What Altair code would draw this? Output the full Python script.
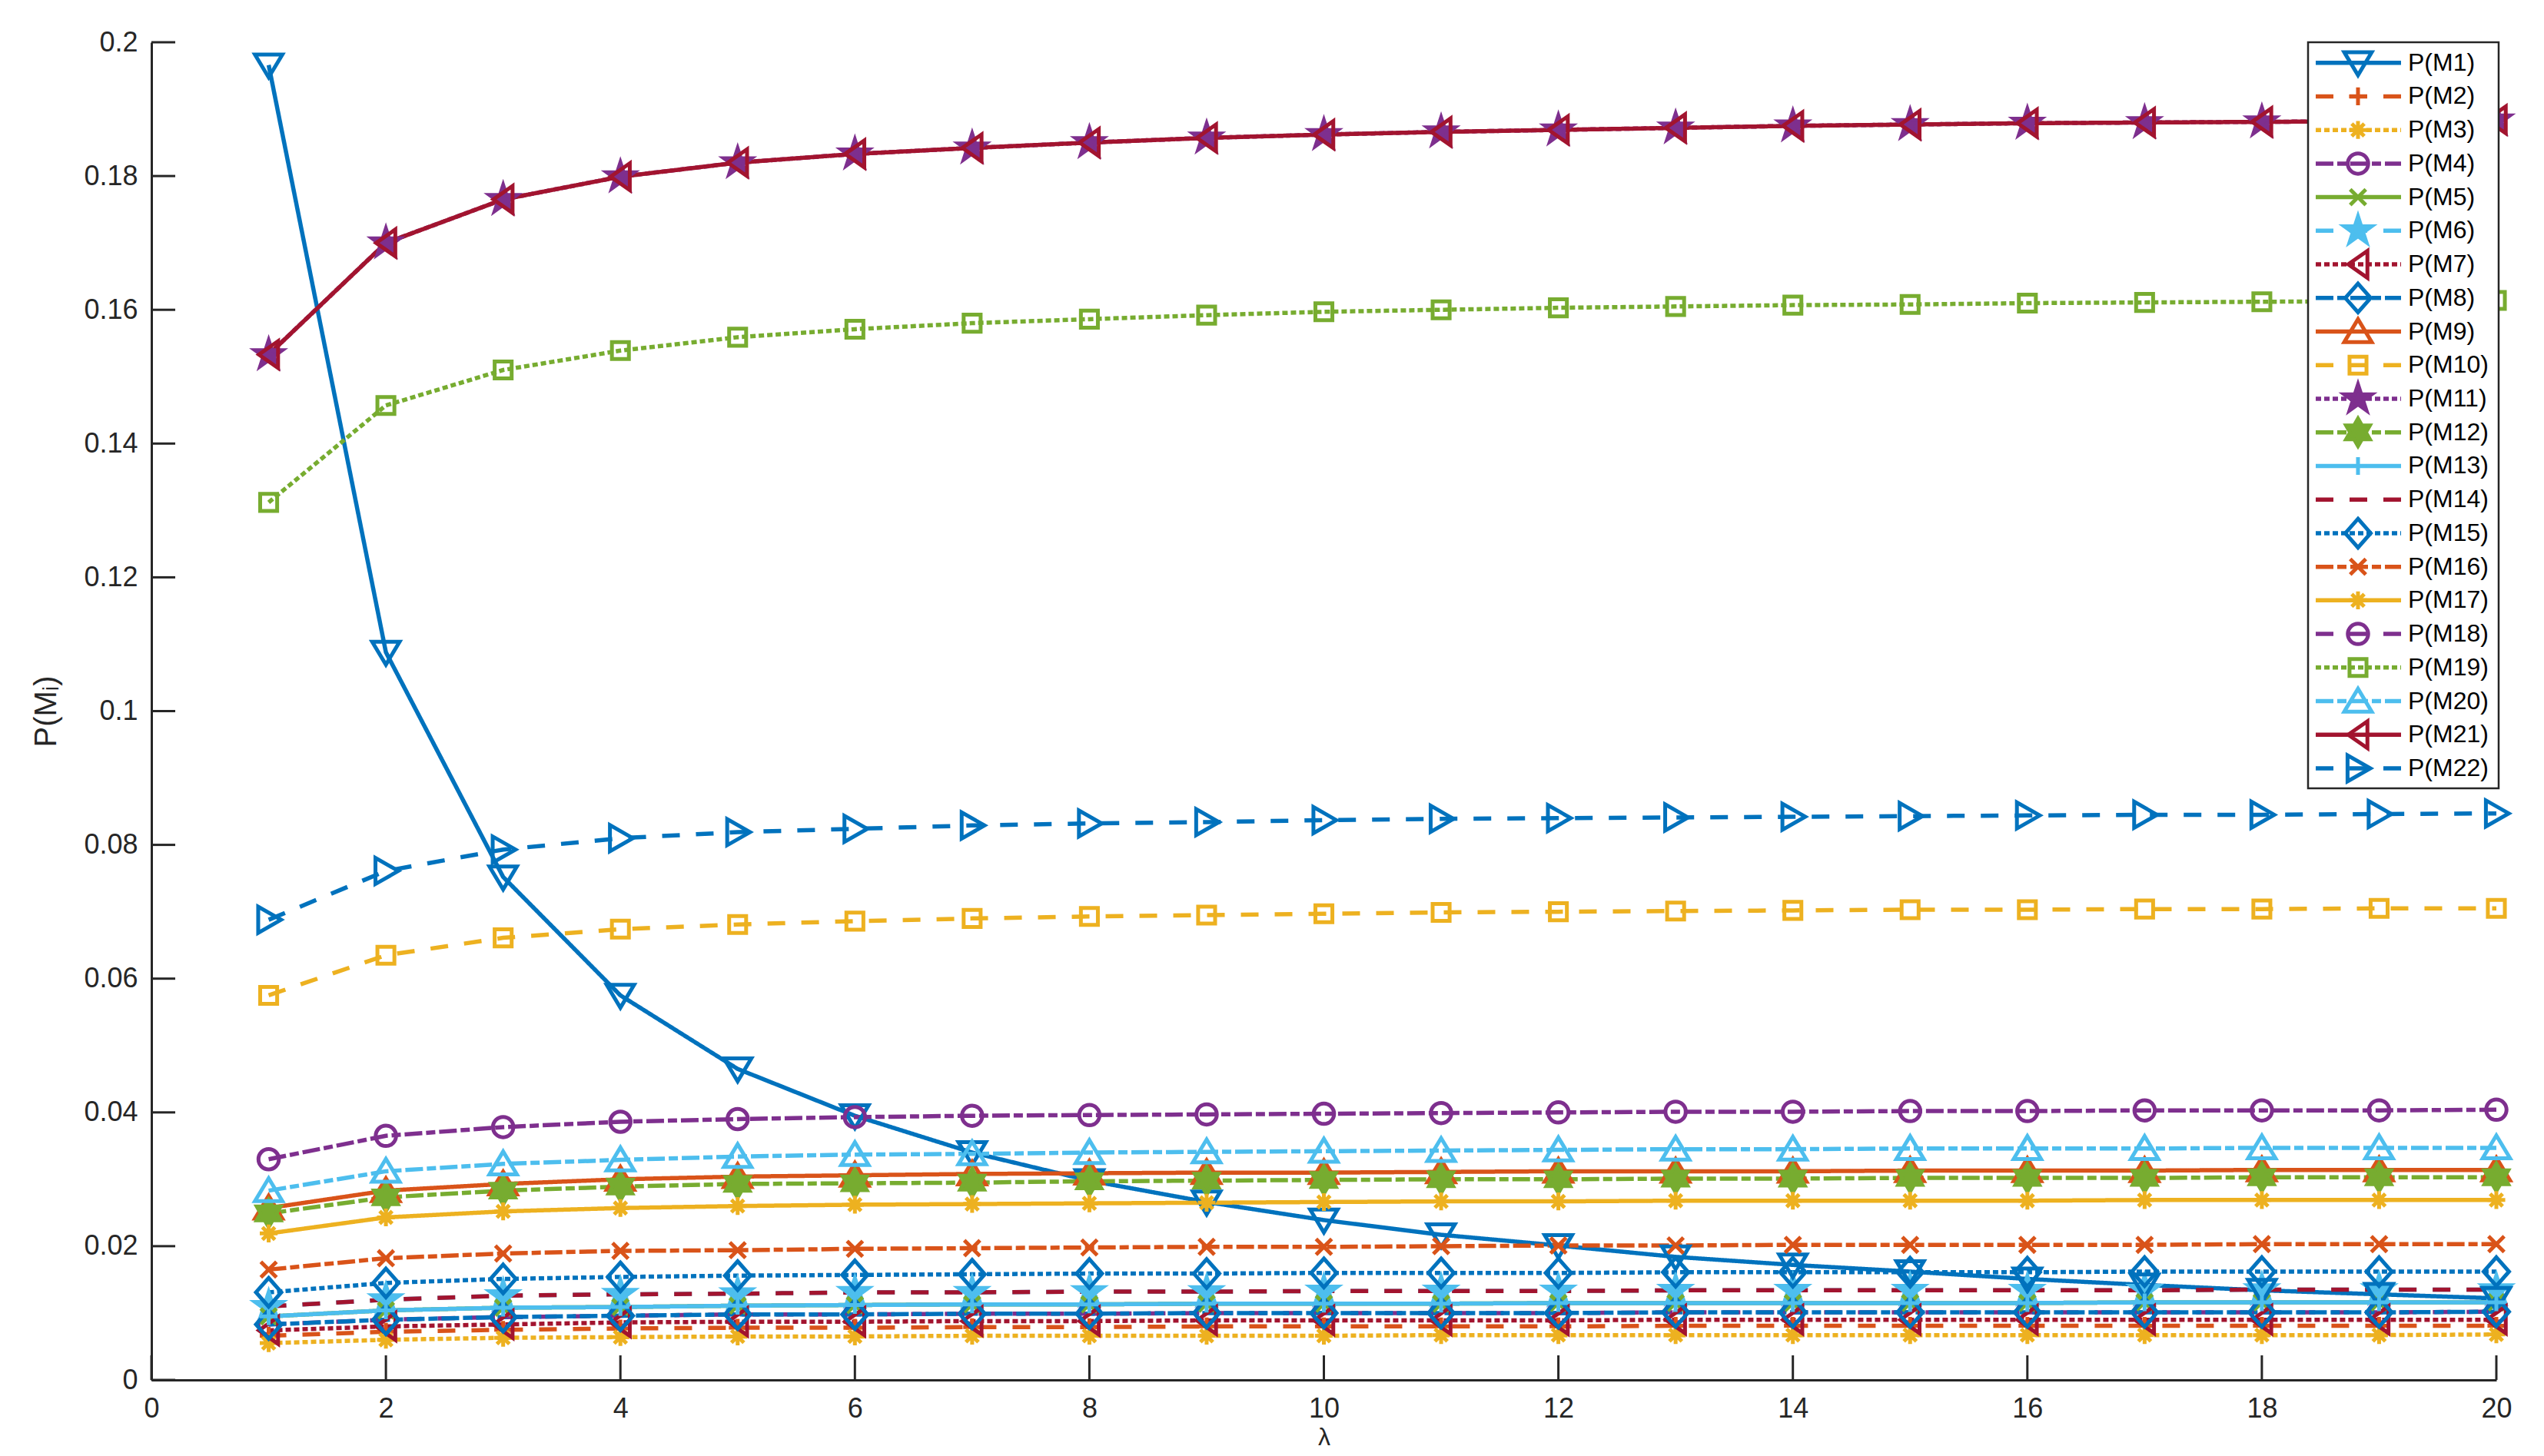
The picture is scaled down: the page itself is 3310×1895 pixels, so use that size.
import math
import altair as alt
import pandas as pd

# ---------------- data ----------------
lam = list(range(1, 21))
labels = [f"P(M{i})" for i in range(1, 23)]

p_m1 = [0.1966, 0.1088, 0.0752, 0.0575, 0.0465, 0.0395, 0.0340, 0.0298, 0.0266, 0.0239,
        0.0217, 0.0201, 0.0184, 0.0172, 0.0162, 0.0151, 0.0142, 0.0134, 0.0128, 0.0122]
p_m2 = [0.0066, 0.0072, 0.0075, 0.0077, 0.0078, 0.0078, 0.0079, 0.0079, 0.0080, 0.0080,
        0.0080, 0.0080, 0.0081, 0.0081, 0.0081, 0.0081, 0.0081, 0.0081, 0.0081, 0.0081]
p_m3 = [0.0055, 0.0060, 0.0063, 0.0064, 0.0065, 0.0065, 0.0066, 0.0066, 0.0066, 0.0066,
        0.0067, 0.0067, 0.0067, 0.0067, 0.0067, 0.0067, 0.0067, 0.0067, 0.0067, 0.0068]
p_m4 = [0.0330, 0.0365, 0.0378, 0.0386, 0.0390, 0.0393, 0.0395, 0.0396, 0.0397, 0.0398,
        0.0399, 0.0400, 0.0401, 0.0401, 0.0402, 0.0402, 0.0403, 0.0403, 0.0403, 0.0404]
p_m5 = [0.0095, 0.0104, 0.0108, 0.0109, 0.0111, 0.0112, 0.0113, 0.0113, 0.0114, 0.0114,
        0.0114, 0.0115, 0.0115, 0.0115, 0.0115, 0.0115, 0.0116, 0.0116, 0.0116, 0.0116]
p_m6 = [0.0110, 0.0120, 0.0126, 0.0128, 0.0129, 0.0131, 0.0131, 0.0132, 0.0132, 0.0133,
        0.0133, 0.0133, 0.0134, 0.0134, 0.0134, 0.0134, 0.0134, 0.0135, 0.0135, 0.0135]
p_m7 = [0.0074, 0.0080, 0.0083, 0.0086, 0.0087, 0.0087, 0.0088, 0.0088, 0.0089, 0.0089,
        0.0089, 0.0089, 0.0090, 0.0090, 0.0090, 0.0090, 0.0090, 0.0090, 0.0090, 0.0090]
p_m8 = [0.0083, 0.0090, 0.0094, 0.0096, 0.0098, 0.0098, 0.0099, 0.0099, 0.0100, 0.0100,
        0.0100, 0.0100, 0.0101, 0.0101, 0.0101, 0.0101, 0.0101, 0.0101, 0.0101, 0.0102]
p_m9 = [0.0257, 0.0283, 0.0293, 0.0300, 0.0304, 0.0306, 0.0308, 0.0309, 0.0310, 0.0310,
        0.0311, 0.0312, 0.0312, 0.0312, 0.0313, 0.0313, 0.0313, 0.0314, 0.0314, 0.0314]
p_m10 = [0.0575, 0.0635, 0.0661, 0.0674, 0.0681, 0.0686, 0.0690, 0.0693, 0.0695, 0.0697,
         0.0699, 0.0700, 0.0701, 0.0702, 0.0703, 0.0703, 0.0704, 0.0704, 0.0705, 0.0705]
p_m11 = [0.1533, 0.1700, 0.1765, 0.1799, 0.1820, 0.1833, 0.1842, 0.1850, 0.1857, 0.1862,
         0.1866, 0.1869, 0.1872, 0.1875, 0.1877, 0.1879, 0.1880, 0.1881, 0.1882, 0.1884]
p_m12 = [0.0249, 0.0273, 0.0283, 0.0289, 0.0293, 0.0294, 0.0295, 0.0297, 0.0298, 0.0299,
         0.0300, 0.0300, 0.0301, 0.0301, 0.0302, 0.0302, 0.0302, 0.0303, 0.0303, 0.0303]
p_m13 = [0.0095, 0.0104, 0.0108, 0.0109, 0.0111, 0.0112, 0.0113, 0.0113, 0.0114, 0.0114,
         0.0114, 0.0115, 0.0115, 0.0115, 0.0115, 0.0115, 0.0116, 0.0116, 0.0116, 0.0116]
p_m14 = [0.0110, 0.0120, 0.0126, 0.0128, 0.0129, 0.0131, 0.0131, 0.0132, 0.0132, 0.0133,
         0.0133, 0.0133, 0.0134, 0.0134, 0.0134, 0.0134, 0.0134, 0.0135, 0.0135, 0.0135]
p_m15 = [0.0131, 0.0145, 0.0151, 0.0154, 0.0156, 0.0157, 0.0158, 0.0159, 0.0159, 0.0160,
         0.0160, 0.0160, 0.0161, 0.0161, 0.0161, 0.0161, 0.0162, 0.0162, 0.0162, 0.0162]
p_m16 = [0.0165, 0.0182, 0.0189, 0.0193, 0.0194, 0.0196, 0.0197, 0.0198, 0.0199, 0.0199,
         0.0200, 0.0201, 0.0201, 0.0202, 0.0202, 0.0202, 0.0202, 0.0203, 0.0203, 0.0203]
p_m17 = [0.0219, 0.0243, 0.0252, 0.0257, 0.0260, 0.0262, 0.0263, 0.0264, 0.0265, 0.0266,
         0.0267, 0.0267, 0.0268, 0.0268, 0.0268, 0.0268, 0.0269, 0.0269, 0.0269, 0.0269]
p_m18 = [0.0083, 0.0090, 0.0094, 0.0096, 0.0098, 0.0098, 0.0099, 0.0099, 0.0100, 0.0100,
         0.0100, 0.0100, 0.0101, 0.0101, 0.0101, 0.0101, 0.0101, 0.0101, 0.0101, 0.0102]
p_m19 = [0.1312, 0.1457, 0.1510, 0.1539, 0.1559, 0.1571, 0.1580, 0.1586, 0.1592, 0.1597,
         0.1600, 0.1603, 0.1605, 0.1607, 0.1608, 0.1610, 0.1611, 0.1612, 0.1613, 0.1614]
p_m20 = [0.0283, 0.0312, 0.0323, 0.0329, 0.0334, 0.0337, 0.0338, 0.0340, 0.0341, 0.0342,
         0.0343, 0.0344, 0.0345, 0.0345, 0.0346, 0.0346, 0.0346, 0.0347, 0.0347, 0.0347]
p_m21 = [0.1533, 0.1700, 0.1765, 0.1799, 0.1820, 0.1833, 0.1842, 0.1850, 0.1857, 0.1862,
         0.1866, 0.1869, 0.1872, 0.1875, 0.1877, 0.1879, 0.1880, 0.1881, 0.1882, 0.1884]
p_m22 = [0.0688, 0.0761, 0.0793, 0.0810, 0.0819, 0.0824, 0.0829, 0.0832, 0.0834, 0.0837,
         0.0839, 0.0840, 0.0841, 0.0842, 0.0843, 0.0844, 0.0845, 0.0845, 0.0846, 0.0847]

x_ticks = [0, 2, 4, 6, 8, 10, 12, 14, 16, 18, 20]
y_ticks = [0, 0.02, 0.04, 0.06, 0.08, 0.1, 0.12, 0.14, 0.16, 0.18, 0.2]

series_values = dict(zip(labels, [p_m1, p_m2, p_m3, p_m4, p_m5, p_m6, p_m7, p_m8, p_m9, p_m10,
                                  p_m11, p_m12, p_m13, p_m14, p_m15, p_m16, p_m17, p_m18,
                                  p_m19, p_m20, p_m21, p_m22]))

# ---------------- styles ----------------
C = ["#0072BD", "#D95319", "#EDB120", "#7E2F8E", "#77AC30", "#4DBEEE", "#A2142F"]
colors = [C[i % 7] for i in range(22)]
SOLID, DASHED, DOTTED, DASHDOT = [1, 0], [23, 21], [7, 4], [23, 5, 12, 5]
dash_cycle = [SOLID, DASHED, DOTTED, DASHDOT]
dashes = [dash_cycle[i % 4] for i in range(22)]


def star_path(n, R, r):
    pts = []
    for k in range(2 * n):
        ang = math.radians(-90 + k * 180.0 / n)
        rad = R if k % 2 == 0 else r
        pts.append(f"{rad * math.cos(ang):.3f},{rad * math.sin(ang):.3f}")
    return "M" + "L".join(pts) + "Z"


TRI_DOWN = "M-1.05,-0.8L1.05,-0.8L0,0.95Z"
TRI_UP = "M-1.05,0.8L1.05,0.8L0,-0.95Z"
TRI_LEFT = "M0.72,-1.03L0.72,1.03L-0.75,0Z"
TRI_RIGHT = "M-0.8,-1L-0.8,1L0.95,0Z"
PLUS = "M-0.68,0L0.68,0M0,-0.68L0,0.68"
XMARK = "M-0.6,-0.6L0.6,0.6M-0.6,0.6L0.6,-0.6"
ASTER = "M-0.68,0L0.68,0M0,-0.68L0,0.68M-0.48,-0.48L0.48,0.48M-0.48,0.48L0.48,-0.48"
CIRCLE = "M0.78,0A0.78,0.78,0,1,1,-0.78,0A0.78,0.78,0,1,1,0.78,0Z"
DIAMOND = "M0,-1.1L0.97,0L0,1.1L-0.97,0Z"
SQUARE = "M-0.65,-0.65L0.65,-0.65L0.65,0.65L-0.65,0.65Z"
PENTA = star_path(5, 1.1, 0.42)
HEXA = star_path(6, 1.05, 0.606)
NONE = "M0,0"

shapes = [TRI_DOWN, PLUS, ASTER, CIRCLE, XMARK, PENTA, TRI_LEFT, DIAMOND, TRI_UP, SQUARE,
          PENTA, HEXA, PLUS, NONE, DIAMOND, XMARK, ASTER, CIRCLE, SQUARE, TRI_UP,
          TRI_LEFT, TRI_RIGHT]
# star markers render as solid at this line width
fills = [colors[i] if shapes[i] in (PENTA, HEXA) else "transparent" for i in range(22)]

# draw order: series that are hidden below others first
hidden = ["P(M18)", "P(M11)", "P(M6)", "P(M5)"]
draw_order = hidden + [s for s in labels if s not in hidden]

rows = []
for name in draw_order:
    for x, v in zip(lam, series_values[name]):
        rows.append({"series": name, "lam": x, "p": v})
df = pd.DataFrame(rows)

W, H = 3051, 1741
AX = "#262626"
FONT = "Liberation Sans"

color_enc = alt.Color("series:N", scale=alt.Scale(domain=labels, range=colors), legend=None)
fill_enc = alt.Fill("series:N", scale=alt.Scale(domain=labels, range=fills), legend=None)
dash_enc = alt.StrokeDash("series:N", scale=alt.Scale(domain=labels, range=dashes), legend=None)
shape_enc = alt.Shape("series:N", scale=alt.Scale(domain=labels, range=shapes), legend=None)

x_scale = alt.Scale(domain=[0, 20], nice=False, zero=False)
y_scale = alt.Scale(domain=[0, 0.2], nice=False)

x_axis = alt.Axis(values=x_ticks, format="d", title="λ", ticks=False, tickSize=0,
                  labelPadding=20, labelFontSize=36, labelFont=FONT, labelColor=AX,
                  labelFlush=False, labelOverlap=False, domainColor=AX, domainWidth=3,
                  grid=False, titleFont=FONT, titleFontSize=32, titleFontWeight="normal",
                  titleColor=AX, titleY=59, titleBaseline="top")
y_axis = alt.Axis(values=y_ticks, format="~g", title="P(Mᵢ)", ticks=False, tickSize=0,
                  labelPadding=18, labelFontSize=36, labelFont=FONT, labelColor=AX,
                  labelFlush=False, labelOverlap=False, domainColor=AX, domainWidth=3,
                  grid=False, titleFont=FONT, titleFontSize=40, titleFontWeight="normal",
                  titleColor=AX, titleAngle=270, titleX=-137, titleY=H / 2,
                  titleAlign="center", titleBaseline="middle")

X = alt.X("lam:Q", scale=x_scale, axis=x_axis)
Y = alt.Y("p:Q", scale=y_scale, axis=y_axis)

lines = alt.Chart(df).mark_line(strokeWidth=5.5, strokeCap="butt", opacity=1).encode(
    x=X, y=Y, color=color_enc, strokeDash=dash_enc, detail="series:N")

points = alt.Chart(df).transform_filter(alt.datum.series != "P(M14)").mark_point(
    filled=False, strokeWidth=5, size=1156, opacity=1).encode(
    x=X, y=Y, color=color_enc, fill=fill_enc, shape=shape_enc)

xtick_df = pd.DataFrame({"lam": x_ticks})
ytick_df = pd.DataFrame({"p": y_ticks})
xticks = alt.Chart(xtick_df).mark_rule(color=AX, strokeWidth=3).encode(
    x=X, y=alt.value(H), y2=alt.value(H - 32))
yticks = alt.Chart(ytick_df).mark_rule(color=AX, strokeWidth=3).encode(
    y=Y, x=alt.value(0), x2=alt.value(31))

main = alt.layer(lines, points, xticks, yticks)

# ---------------- legend (MATLAB style box, top right) ----------------
leg_df = pd.DataFrame({"series": labels})
LY = alt.Y("series:N", scale=alt.Scale(type="point", domain=labels, range=[26.7, 945], padding=0),
           axis=None)
box = alt.Chart(pd.DataFrame({"k": [0]})).mark_rect(
    fill="white", stroke=AX, strokeWidth=2.5).encode(
    x=alt.value(2806), x2=alt.value(3054), y=alt.value(0), y2=alt.value(971))
leg_lines = alt.Chart(leg_df).mark_rule(strokeWidth=5.5, strokeCap="butt").encode(
    x=alt.value(2816), x2=alt.value(2927), y=LY, color=color_enc, strokeDash=dash_enc)
leg_marks = alt.Chart(leg_df).transform_filter(alt.datum.series != "P(M14)").mark_point(
    filled=False, strokeWidth=5, size=1156, opacity=1).encode(
    x=alt.value(2871), y=LY, color=color_enc, fill=fill_enc, shape=shape_enc)
leg_text = alt.Chart(leg_df).mark_text(align="left", baseline="middle", fontSize=32,
                                       font=FONT, color="black").encode(
    x=alt.value(2936), y=LY, text="series:N")
legend = alt.layer(box, leg_lines, leg_marks, leg_text)

chart = alt.layer(main, legend).resolve_scale(y="independent").properties(
    width=W, height=H,
    autosize=alt.AutoSizeParams(type="none"),
    padding={"left": 189, "top": 47, "right": 54, "bottom": 95},
    background="white",
).configure_view(strokeWidth=0)

chart.save("out.html", embed_options={"renderer": "svg", "actions": False})
